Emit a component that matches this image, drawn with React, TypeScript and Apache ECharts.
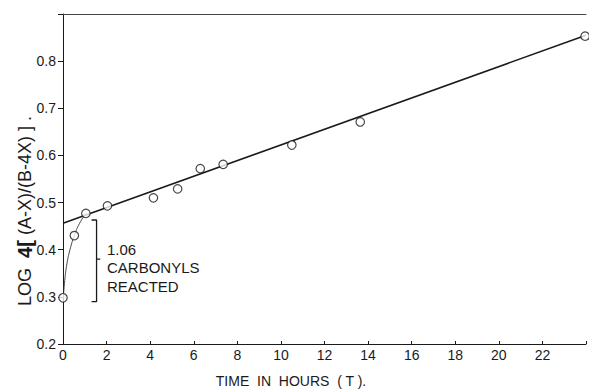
import React, { useEffect, useRef } from "react";
import * as echarts from "echarts";

// Observed points (time in hours, log value)
const TIMES = [0, 0.52, 1.05, 2.04, 4.15, 5.26, 6.3, 7.35, 10.5, 13.64, 23.96];
const VALUES = [0.298, 0.43, 0.477, 0.493, 0.51, 0.529, 0.572, 0.581, 0.622, 0.671, 0.853];

// Straight fitted line
const FIT_X = [0, 24];
const FIT_Y = [0.456, 0.855];

// Thin early curve
const CURVE_X = [0.02, 0.08, 0.18, 0.32, 0.52, 0.75, 1.05];
const CURVE_Y = [0.3, 0.335, 0.37, 0.4, 0.43, 0.455, 0.477];

// Bracket annotation
const BRACKET_X = [1.31, 1.54, 1.54, 1.31];
const BRACKET_Y = [0.463, 0.463, 0.29, 0.29];
const BRACKET_TICK_X = [1.54, 1.71];
const BRACKET_TICK_Y = [0.38, 0.38];
const NOTE_LINES = ["1.06", "CARBONYLS", "REACTED"];

const X_TICKS = [0, 2, 4, 6, 8, 10, 12, 14, 16, 18, 20, 22];
const Y_TICKS = [0.2, 0.3, 0.4, 0.5, 0.6, 0.7, 0.8];
const X_TITLE = "TIME  IN  HOURS  ( T ).";
const Y_TITLE = "{n|LOG  }{b|4[}{n| (A-X)/(B-4X) ] .}";

const FONT = "Liberation Sans, Arial, sans-serif";
const INK = "#1a1a1a";

const zip = (xs: number[], ys: number[]) => xs.map((x, i) => [x, ys[i]]);

export default function App() {
  const ref = useRef<HTMLDivElement>(null);
  useEffect(() => {
    if (!ref.current) return;
    const chart = echarts.init(ref.current, null, { renderer: "svg" });
    chart.setOption({
      animation: false,
      backgroundColor: "#ffffff",
      grid: { left: 63, right: 0, top: 14, bottom: 46 },
      xAxis: [
        {
          type: "value",
          min: 0,
          max: 24,
          interval: 2,
          axisLine: { show: true, lineStyle: { color: INK, width: 1 } },
          axisTick: { show: true, inside: true, length: 3, lineStyle: { color: INK } },
          axisLabel: {
            fontFamily: FONT,
            fontSize: 14,
            color: INK,
            margin: 4,
            formatter: (v: number) => (X_TICKS.includes(v) ? String(v) : ""),
          },
          splitLine: { show: false },
        },
        {
          type: "value",
          position: "top",
          min: 0,
          max: 24,
          axisLine: { show: true, lineStyle: { color: "#444", width: 1 } },
          axisTick: { show: false },
          axisLabel: { show: false },
          splitLine: { show: false },
        },
      ],
      yAxis: {
        type: "value",
        min: 0.2,
        max: 0.9,
        interval: 0.1,
        axisLine: { show: true, lineStyle: { color: INK, width: 1 } },
        axisTick: { show: true, length: 5, lineStyle: { color: INK } },
        axisLabel: {
          fontFamily: FONT,
          fontSize: 14,
          color: INK,
          margin: 7,
          formatter: (v: number) => {
            const r = Math.round(v * 10) / 10;
            return Y_TICKS.some((t) => Math.abs(t - r) < 1e-9) ? r.toFixed(1) : "";
          },
        },
        splitLine: { show: false },
      },
      series: [
        {
          type: "line",
          data: zip(FIT_X, FIT_Y),
          showSymbol: false,
          symbol: "none",
          lineStyle: { color: INK, width: 1.6 },
          z: 2,
        },
        {
          type: "line",
          data: zip(CURVE_X, CURVE_Y),
          smooth: true,
          symbol: "none",
          lineStyle: { color: "#333", width: 0.9 },
          z: 2,
        },
        {
          type: "line",
          data: zip(BRACKET_X, BRACKET_Y),
          symbol: "none",
          lineStyle: { color: INK, width: 1.3 },
          z: 2,
        },
        {
          type: "line",
          data: zip(BRACKET_TICK_X, BRACKET_TICK_Y),
          symbol: "none",
          lineStyle: { color: INK, width: 1.3 },
          z: 2,
        },
        {
          type: "scatter",
          data: zip(TIMES, VALUES),
          symbol: "circle",
          symbolSize: 8.5,
          itemStyle: { color: "#ffffff", borderColor: INK, borderWidth: 1.2 },
          z: 5,
        },
      ],
      graphic: [
        ...NOTE_LINES.map((t, i) => ({
          type: "text",
          x: 107,
          y: 249 + i * 18.5,
          style: {
            text: t,
            fontFamily: FONT,
            fontSize: 15,
            fill: INK,
            verticalAlign: "middle",
          },
        })),
        {
          type: "text",
          x: 291,
          y: 381,
          style: {
            text: X_TITLE,
            fontFamily: FONT,
            fontSize: 14,
            fill: INK,
            align: "center",
            verticalAlign: "middle",
          },
        },
        {
          type: "text",
          x: 25,
          y: 211,
          rotation: Math.PI / 2,
          style: {
            text: Y_TITLE,
            align: "center",
            verticalAlign: "middle",
            rich: {
              n: { fontFamily: FONT, fontSize: 18, fill: INK },
              b: { fontFamily: FONT, fontSize: 20, fill: INK, fontWeight: "bold" },
            },
          },
        },
      ],
    });
    return () => chart.dispose();
  }, []);
  return (
    <div
      ref={ref}
      style={{ position: "fixed", left: 0, top: 0, width: 589, height: 390 }}
    />
  );
}
